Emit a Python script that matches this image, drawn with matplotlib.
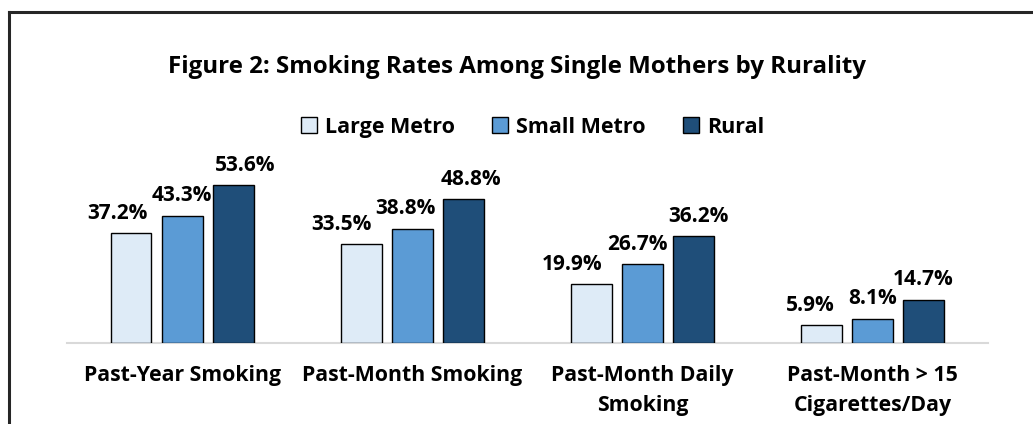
import matplotlib
matplotlib.use('Agg')
import matplotlib.pyplot as plt
import numpy as np

categories = ['Past-Year Smoking', 'Past-Month Smoking',
              'Past-Month Daily\nSmoking', 'Past-Month > 15\nCigarettes/Day']
series = ['Large Metro', 'Small Metro', 'Rural']
large_metro = [37.2, 33.5, 19.9, 5.9]
small_metro = [43.3, 38.8, 26.7, 8.1]
rural = [53.6, 48.8, 36.2, 14.7]
colors = ['#DEEBF7', '#5B9BD5', '#1F4E79']

# little horizontal nudges (pixels) for the value labels, like the original
label_dx = [[-14, 0, 12], [-20, -7, 8], [-19, -5, 5], [-11, 0, 0]]

plt.rcParams['font.family'] = ['Open Sans', 'DejaVu Sans']
plt.rcParams['font.weight'] = 'bold'

fig = plt.figure(figsize=(10.33, 4.24), dpi=100)
ax = fig.add_axes([0.0649, 0.1917, 0.8911, 0.4156])

x = np.arange(len(categories))
width = 0.178
step = 0.222
values = [large_metro, small_metro, rural]
for i, (name, vals, c) in enumerate(zip(series, values, colors)):
    bars = ax.bar(x + (i - 1) * step, vals, width, color=c, edgecolor='black',
                  linewidth=1, label=name, zorder=3)
    for j, b in enumerate(bars):
        ax.annotate('{:.1f}%'.format(vals[j]),
                    (b.get_x() + b.get_width() / 2, b.get_height()),
                    xytext=(label_dx[j][i], 20), textcoords='offset pixels',
                    ha='center', va='center', fontsize=15, fontweight='bold')

ax.set_xlim(-0.5, 3.5)
ax.set_ylim(0, 60)
ax.set_xticks(x)
ax.set_xticklabels(categories, fontsize=15.3, fontweight='bold', linespacing=1.55)
ax.tick_params(axis='x', length=0, pad=16)
ax.set_yticks([])
for s in ['top', 'right', 'left']:
    ax.spines[s].set_visible(False)
ax.spines['bottom'].set_color('#D9D9D9')
ax.spines['bottom'].set_linewidth(1.5)

fig.text(0.5, 0.842, 'Figure 2: Smoking Rates Among Single Mothers by Rurality',
         ha='center', va='center', fontsize=17.4, fontweight='bold')

leg = fig.legend(loc='center', bbox_to_anchor=(0.5155, 0.70), ncol=3, frameon=False,
                 fontsize=15.5, handlelength=0.75, handleheight=0.75,
                 handletextpad=0.35, columnspacing=1.75)

# outer frame (only left and top edges show in the crop)
fig.add_artist(plt.Line2D([0.0085, 0.0085], [0, 0.972], color='#262626', lw=2.2,
                          transform=fig.transFigure))
fig.add_artist(plt.Line2D([0.0085, 1.0], [0.972, 0.972], color='#262626', lw=2.2,
                          transform=fig.transFigure))

fig.savefig('out.png', dpi=100)
